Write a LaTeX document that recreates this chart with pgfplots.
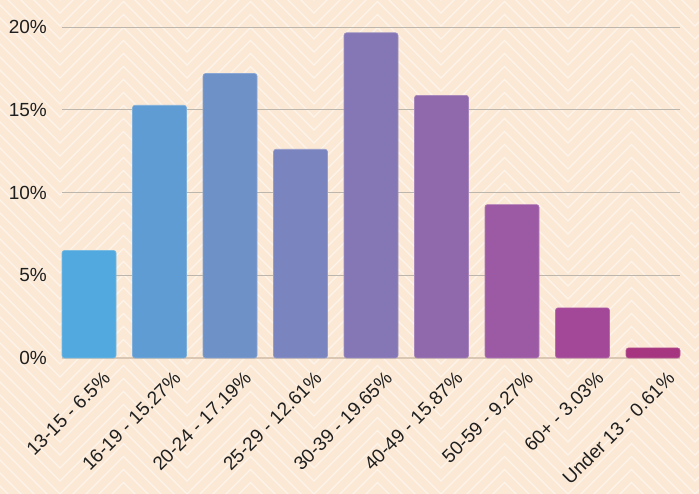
\documentclass[border=0pt]{standalone}
\usepackage{pgfplots}
\pgfplotsset{compat=1.18}
\usepackage{fontspec}
\setmainfont{Liberation Sans}

\definecolor{bgc}{HTML}{FBE9D6}
\definecolor{gridc}{HTML}{BDB6AC}
\definecolor{basec}{HTML}{D9C7B3}
\definecolor{ca}{HTML}{52A9DF}
\definecolor{cb}{HTML}{5F9CD3}
\definecolor{cc}{HTML}{6E91C8}
\definecolor{cd}{HTML}{7A85C0}
\definecolor{ce}{HTML}{8577B5}
\definecolor{cf}{HTML}{9068AC}
\definecolor{cg}{HTML}{9C5AA5}
\definecolor{ch}{HTML}{A34898}
\definecolor{ci}{HTML}{A6367F}

\begin{document}
\begin{tikzpicture}
\useasboundingbox (0pt,0pt) rectangle (699pt,494pt);
\fill[bgc] (0pt,0pt) rectangle (699pt,494pt);
% faint chevron background
\begin{scope}[x=1pt,y=1pt]
\clip (0,0) rectangle (699,494);
\foreach \j in {-6,...,40}{
  \draw[white, opacity=0.5, line width=1.1pt]
    (-67,13*\j) \foreach \m in {0,...,6}{ -- ({-3.5+127*\m},{13*\j+63.5}) -- ({60+127*\m},{13*\j}) };
}
\end{scope}
\begin{axis}[
    at={(62pt,136pt)}, anchor=south west,
    scale only axis,
    width=618pt, height=331pt,
    ymin=0, ymax=20,
    xmin=-0.383, xmax=8.383,
    axis line style={draw=none},
    major tick length=0pt,
    ymajorgrids,
    grid style={gridc, line width=0.9pt},
    ytick={0,5,10,15,20},
    yticklabel={\pgfmathprintnumber{\tick}\%},
    yticklabel style={anchor=east, inner sep=0pt, xshift=-15pt},
    xtick={0,...,8},
    xticklabels={13-15 - 6.5\%, 16-19 - 15.27\%, 20-24 - 17.19\%, 25-29 - 12.61\%, 30-39 - 19.65\%, 40-49 - 15.87\%, 50-59 - 9.27\%, 60+ - 3.03\%, Under 13 - 0.61\%},
    xticklabel style={inner sep=0pt, xshift=13pt, yshift=-12pt, anchor=north east, rotate=45},
    tick label style={font=\fontsize{19}{21}\selectfont, text=black!88},
    /pgf/number format/assume math mode=true,
    ybar, bar width=54pt, bar shift=0pt,
    every axis plot/.append style={rounded corners=2.5pt, line width=0.6pt},
    clip=false,
]
\draw[basec, line width=1.6pt] (rel axis cs:0,0) -- (rel axis cs:1,0);
\addplot[fill=ca, draw=ca!80!white] coordinates {(0,6.5)};
\addplot[fill=cb, draw=cb!80!white] coordinates {(1,15.27)};
\addplot[fill=cc, draw=cc!80!white] coordinates {(2,17.19)};
\addplot[fill=cd, draw=cd!80!white] coordinates {(3,12.61)};
\addplot[fill=ce, draw=ce!80!white] coordinates {(4,19.65)};
\addplot[fill=cf, draw=cf!80!white] coordinates {(5,15.87)};
\addplot[fill=cg, draw=cg!80!white] coordinates {(6,9.27)};
\addplot[fill=ch, draw=ch!80!white] coordinates {(7,3.03)};
\addplot[fill=ci, draw=ci!80!white] coordinates {(8,0.61)};
\end{axis}
\end{tikzpicture}
\end{document}
